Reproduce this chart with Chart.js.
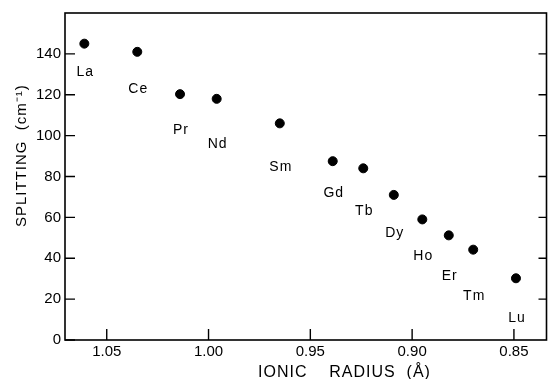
<!DOCTYPE html>
<html>
<head>
<meta charset="utf-8">
<script src="https://cdn.jsdelivr.net/npm/chart.js@4"></script>
<style>
    body { margin: 0; background: #fff; }
</style>
</head>
<body>
<canvas id="chart" width="552" height="379"></canvas>
<script>
// Data
const elements = ['La', 'Ce', 'Pr', 'Nd', 'Sm', 'Gd', 'Tb', 'Dy', 'Ho', 'Er', 'Tm', 'Lu'];
const ionicRadius = [1.061, 1.035, 1.014, 0.996, 0.965, 0.939, 0.924, 0.909, 0.895, 0.882, 0.870, 0.849];
const splitting = [145, 141, 120.3, 118, 106, 87.5, 84, 71, 59, 51.2, 44.2, 30.2];
const xTicks = [1.05, 1.00, 0.95, 0.90, 0.85];
const yTicks = [0, 20, 40, 60, 80, 100, 120, 140];

// pixel offset of each element label below its point
const labelOffsets = [28, 37, 36, 45, 44, 32, 43, 38, 37, 41, 46, 40];

const font = 'Liberation Sans, Arial, sans-serif';

const framePlugin = {
    id: 'frame',
    afterDraw: function(chart) {
        const ctx = chart.ctx;
        const area = chart.chartArea;
        const xs = chart.scales.x;
        const ys = chart.scales.y;

        ctx.save();
        ctx.strokeStyle = '#000';
        ctx.lineWidth = 1.6;
        ctx.strokeRect(area.left, area.top, area.right - area.left, area.bottom - area.top);

        // inward ticks
        ctx.lineWidth = 1.4;
        ctx.beginPath();
        xTicks.forEach(function(v) {
            const px = xs.getPixelForValue(v);
            ctx.moveTo(px, area.bottom);
            ctx.lineTo(px, area.bottom - 11);
        });
        yTicks.forEach(function(v) {
            const py = ys.getPixelForValue(v);
            ctx.moveTo(area.left, py);
            ctx.lineTo(area.left + 10, py);
            if (v > 0) {
                ctx.moveTo(area.right, py);
                ctx.lineTo(area.right - 8, py);
            }
        });
        ctx.stroke();

        // element labels
        ctx.fillStyle = '#000';
        ctx.font = '14px ' + font;
        ctx.letterSpacing = '1px';
        ctx.textAlign = 'center';
        ctx.textBaseline = 'middle';
        elements.forEach(function(name, i) {
            const px = xs.getPixelForValue(ionicRadius[i]);
            const py = ys.getPixelForValue(splitting[i]);
            ctx.fillText(name, px + 1, py + labelOffsets[i]);
        });

        // axis titles
        ctx.font = '16px ' + font;
        ctx.textAlign = 'left';
        ctx.textBaseline = 'alphabetic';
        ctx.fillText('IONIC    RADIUS  (\u00C5)', 258, 377);

        ctx.font = '15px ' + font;
        ctx.translate(26, 227);
        ctx.rotate(-Math.PI / 2);
        ctx.fillText('SPLITTING  (cm\u207B\u00B9)', 0, 0);
        ctx.restore();
    }
};

new Chart(document.getElementById('chart'), {
    type: 'scatter',
    data: {
        datasets: [{
            data: ionicRadius.map(function(r, i) { return { x: r, y: splitting[i] }; }),
            backgroundColor: '#000',
            borderColor: '#000',
            pointRadius: 4.5,
            pointHoverRadius: 4.5
        }]
    },
    options: {
        responsive: false,
        devicePixelRatio: 1,
        animation: false,
        layout: { padding: { top: 13, right: 2, left: 0, bottom: 0 } },
        plugins: {
            legend: { display: false },
            tooltip: { enabled: false }
        },
        scales: {
            x: {
                type: 'linear',
                reverse: true,
                min: 0.834,
                max: 1.0705,
                grid: { display: false, drawTicks: false },
                border: { display: false },
                afterFit: function(scale) { scale.height = 39; },
                afterBuildTicks: function(scale) {
                    scale.ticks = xTicks.map(function(v) { return { value: v }; });
                },
                ticks: {
                    padding: 3,
                    color: '#000',
                    font: { family: font, size: 15 },
                    callback: function(v) { return Number(v).toFixed(2); }
                }
            },
            y: {
                min: 0,
                max: 160,
                grid: { display: false, drawTicks: false },
                border: { display: false },
                afterFit: function(scale) { scale.width = 65; },
                afterBuildTicks: function(scale) {
                    scale.ticks = yTicks.map(function(v) { return { value: v }; });
                },
                ticks: {
                    padding: 4,
                    color: '#000',
                    font: { family: font, size: 15 }
                }
            }
        }
    },
    plugins: [framePlugin]
});
</script>
</body>
</html>
